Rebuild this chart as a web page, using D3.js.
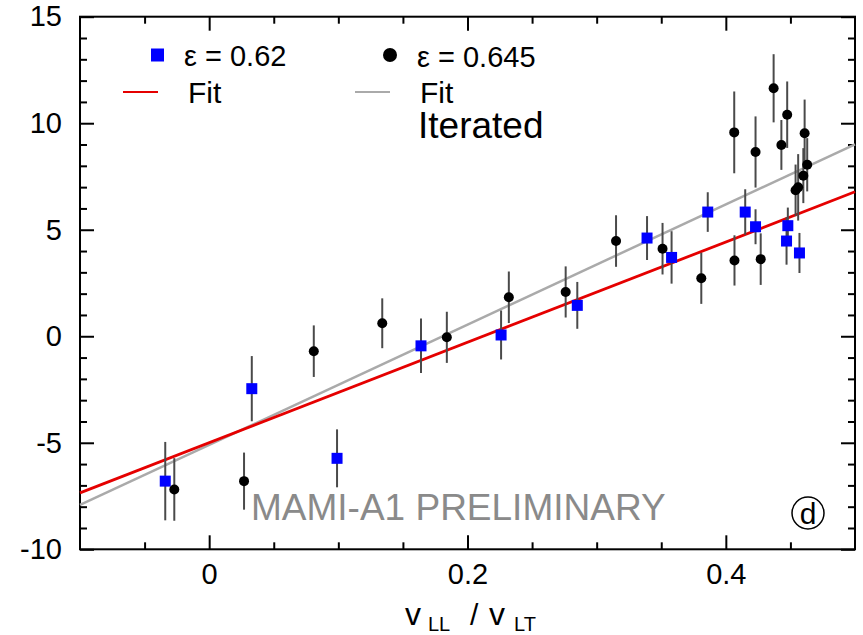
<html>
<head>
<meta charset="utf-8">
<script src="https://d3js.org/d3.v7.min.js"></script>
<style>
  body { margin: 0; padding: 0; background: #fff; overflow: hidden; }
  text { font-family: "Liberation Sans", Arial, Helvetica, sans-serif; }
</style>
</head>
<body>
<svg id="chart" width="863" height="635"></svg>
<script>
// data
var blueX   = [-0.034, 0.033, 0.099, 0.164, 0.226, 0.285, 0.339, 0.358, 0.386, 0.415, 0.423, 0.447, 0.448, 0.457];
var blueY   = [-6.80, -2.46, -5.73, -0.45, 0.06, 1.45, 4.61, 3.70, 5.83, 5.83, 5.14, 4.47, 5.19, 3.91];
var blueErr = [1.84, 1.53, 1.36, 1.28, 1.15, 1.10, 1.03, 1.23, 0.93, 1.07, 0.82, 1.11, 0.85, 0.94];

var blackX   = [-0.027, 0.027, 0.081, 0.134, 0.184, 0.232, 0.276, 0.315, 0.351, 0.381, 0.4065, 0.4067, 0.423, 0.427, 0.437, 0.443, 0.4475, 0.454, 0.456, 0.460, 0.461, 0.463];
var blackY   = [-7.19, -6.80, -0.70, 0.61, -0.05, 1.83, 2.08, 4.47, 4.11, 2.72, 9.57, 3.56, 8.65, 3.62, 11.64, 8.98, 10.40, 6.85, 6.99, 7.54, 9.53, 8.05];
var blackErr = [1.47, 1.34, 1.21, 1.17, 1.20, 1.21, 1.20, 1.21, 1.21, 1.20, 1.92, 1.18, 1.67, 1.21, 1.60, 1.17, 1.56, 1.21, 1.56, 1.29, 1.58, 1.25];

// fit lines, values at the two ends of the x range
var fitX     = [-0.1, 0.5];
var fitRedY  = [-7.35, 6.78];
var fitGrayY = [-7.92, 9.01];

var xMajor = [0, 0.2, 0.4];
var xMinor = [-0.05, 0.05, 0.1, 0.15, 0.25, 0.3, 0.35, 0.45];
var yMajor = [-10, -5, 0, 5, 10, 15];
var yMinor = [-9, -8, -7, -6, -4, -3, -2, -1, 1, 2, 3, 4, 6, 7, 8, 9, 11, 12, 13, 14];

var pLeft = 80, pRight = 855, pTop = 16.7, pBottom = 549.3;

var x = d3.scaleLinear().domain([-0.1, 0.5]).range([pLeft, pRight]);
var y = d3.scaleLinear().domain([-10, 15]).range([pBottom, pTop]);

var svg = d3.select("#chart");

// axes, ticks pointing inward on all four sides
function styleAxis(g) {
  g.select(".domain").remove();
  g.selectAll(".tick line").attr("stroke", "#000").attr("stroke-width", 2);
  g.selectAll(".tick text").attr("font-size", 29).attr("fill", "#000")
    .attr("font-family", "'Liberation Sans', Arial, sans-serif");
}

svg.append("g").attr("transform", "translate(0," + pBottom + ")")
  .call(d3.axisBottom(x).tickValues(xMajor).tickSize(-14).tickPadding(14)
    .tickFormat(function(d) { return d === 0 ? "0" : d3.format(".1f")(d); }))
  .call(styleAxis);
svg.append("g").attr("transform", "translate(0," + pBottom + ")")
  .call(d3.axisBottom(x).tickValues(xMinor).tickSize(-7).tickFormat(""))
  .call(styleAxis);
svg.append("g").attr("transform", "translate(0," + pTop + ")")
  .call(d3.axisTop(x).tickValues(xMajor).tickSize(-14).tickFormat(""))
  .call(styleAxis);
svg.append("g").attr("transform", "translate(0," + pTop + ")")
  .call(d3.axisTop(x).tickValues(xMinor).tickSize(-7).tickFormat(""))
  .call(styleAxis);

svg.append("g").attr("transform", "translate(" + pLeft + ",0)")
  .call(d3.axisLeft(y).tickValues(yMajor).tickSize(-14).tickPadding(18)
    .tickFormat(function(d) { return String(d); }))
  .call(styleAxis);
svg.append("g").attr("transform", "translate(" + pLeft + ",0)")
  .call(d3.axisLeft(y).tickValues(yMinor).tickSize(-7).tickFormat(""))
  .call(styleAxis);
svg.append("g").attr("transform", "translate(" + pRight + ",0)")
  .call(d3.axisRight(y).tickValues(yMajor).tickSize(-14).tickFormat(""))
  .call(styleAxis);
svg.append("g").attr("transform", "translate(" + pRight + ",0)")
  .call(d3.axisRight(y).tickValues(yMinor).tickSize(-7).tickFormat(""))
  .call(styleAxis);

svg.append("rect")
  .attr("x", pLeft).attr("y", pTop)
  .attr("width", pRight - pLeft).attr("height", pBottom - pTop)
  .attr("fill", "none").attr("stroke", "#000").attr("stroke-width", 2);

// watermark
svg.append("text").attr("x", 251).attr("y", 520)
  .attr("font-size", 37).attr("fill", "#8a8a8a")
  .text("MAMI-A1 PRELIMINARY");

// panel label
svg.append("circle").attr("cx", 808).attr("cy", 513).attr("r", 16)
  .attr("fill", "none").attr("stroke", "#000").attr("stroke-width", 1.5);
svg.append("text").attr("x", 808).attr("y", 524).attr("text-anchor", "middle")
  .attr("font-size", 30).text("d");

// fit lines
var line = d3.line().x(function(d) { return x(d[0]); }).y(function(d) { return y(d[1]); });
svg.append("path").attr("d", line(d3.zip(fitX, fitGrayY)))
  .attr("stroke", "#aaaaaa").attr("stroke-width", 2.5).attr("fill", "none");
svg.append("path").attr("d", line(d3.zip(fitX, fitRedY)))
  .attr("stroke", "#e50000").attr("stroke-width", 2.8).attr("fill", "none");

// error bars
function errBars(xs, ys, es) {
  svg.append("g").selectAll("line").data(d3.range(xs.length)).join("line")
    .attr("x1", function(i) { return x(xs[i]); })
    .attr("x2", function(i) { return x(xs[i]); })
    .attr("y1", function(i) { return y(ys[i] - es[i]); })
    .attr("y2", function(i) { return y(ys[i] + es[i]); })
    .attr("stroke", "#4a4a4a").attr("stroke-width", 2);
}
errBars(blueX, blueY, blueErr);
errBars(blackX, blackY, blackErr);

svg.append("g").selectAll("rect").data(d3.range(blueX.length)).join("rect")
  .attr("x", function(i) { return x(blueX[i]) - 5.5; })
  .attr("y", function(i) { return y(blueY[i]) - 5.5; })
  .attr("width", 11).attr("height", 11)
  .attr("fill", "#0000ff");

svg.append("g").selectAll("circle").data(d3.range(blackX.length)).join("circle")
  .attr("cx", function(i) { return x(blackX[i]); })
  .attr("cy", function(i) { return y(blackY[i]); })
  .attr("r", 5).attr("fill", "#000");

// legend
svg.append("rect").attr("x", 151).attr("y", 48.5).attr("width", 13).attr("height", 13).attr("fill", "#0000ff");
svg.append("text").attr("x", 184).attr("y", 66).attr("font-size", 29).text("ε = 0.62");
svg.append("line").attr("x1", 123).attr("x2", 158).attr("y1", 92).attr("y2", 92)
  .attr("stroke", "#e50000").attr("stroke-width", 2);
svg.append("text").attr("x", 188).attr("y", 103).attr("font-size", 30).text("Fit");

svg.append("circle").attr("cx", 390).attr("cy", 55).attr("r", 7).attr("fill", "#000");
svg.append("text").attr("x", 417).attr("y", 67).attr("font-size", 29).text("ε = 0.645");
svg.append("line").attr("x1", 355).attr("x2", 390).attr("y1", 92).attr("y2", 92)
  .attr("stroke", "#aaaaaa").attr("stroke-width", 2);
svg.append("text").attr("x", 420).attr("y", 103).attr("font-size", 30).text("Fit");
svg.append("text").attr("x", 418).attr("y", 138).attr("font-size", 37).text("Iterated");

// x axis title: v_LL / v_LT
var t = svg.append("g").attr("font-size", 30);
t.append("text").attr("x", 405).attr("y", 625).attr("font-size", 32).text("v");
t.append("text").attr("x", 428).attr("y", 631).attr("font-size", 20).text("LL");
t.append("text").attr("x", 470).attr("y", 625).attr("font-size", 30).text("/");
t.append("text").attr("x", 489).attr("y", 625).attr("font-size", 32).text("v");
t.append("text").attr("x", 514).attr("y", 631).attr("font-size", 20).text("LT");
</script>
</body>
</html>
